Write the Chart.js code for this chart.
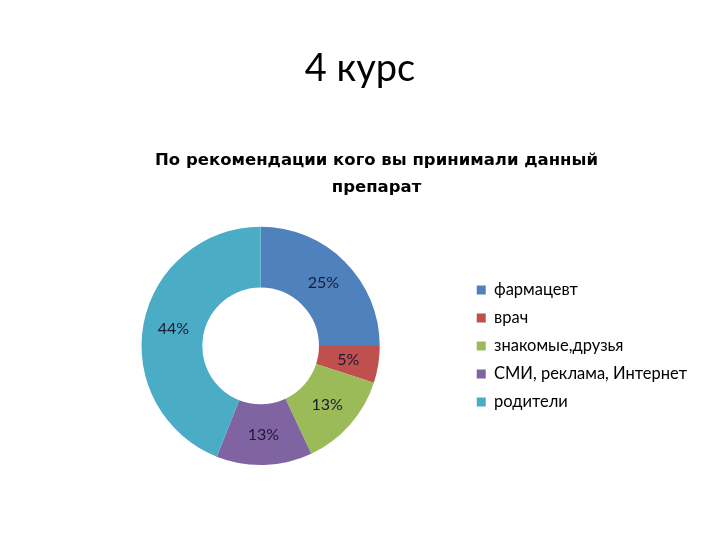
<!DOCTYPE html>
<html>
<head>
<meta charset="utf-8">
<script src="https://cdn.jsdelivr.net/npm/chart.js@4"></script>
<style>
  html, body { margin: 0; padding: 0; background: #fff; }
  #wrap { width: 720px; height: 540px; }
</style>
</head>
<body>
<div id="wrap"><canvas id="chart" width="720" height="540"></canvas></div>
<script>
// data
const heading = '4 курс';
const categories = ['фармацевт', 'врач', 'знакомые,друзья', 'СМИ, реклама, Интернет', 'родители'];
const shares = [25, 5, 13, 13, 44];
const sliceColors = ['#4F81BD', '#C0504D', '#9BBB59', '#8064A2', '#4BACC6'];

// slide heading sits over the page centre, not over the chart box
const slideHeading = {
    id: 'slideHeading',
    afterDraw(chart) {
        const ctx = chart.ctx;
        ctx.save();
        ctx.font = '38px Lato';
        ctx.fillStyle = '#000';
        ctx.textAlign = 'center';
        ctx.textBaseline = 'alphabetic';
        ctx.fillText(heading, chart.width / 2, 81);
        ctx.restore();
    }
};

// percent labels drawn in the middle of each ring slice
const sliceLabels = {
    id: 'sliceLabels',
    afterDatasetsDraw(chart) {
        const ctx = chart.ctx;
        const meta = chart.getDatasetMeta(0);
        ctx.save();
        ctx.font = '16px Lato';
        ctx.fillStyle = '#1a1a33';
        ctx.textAlign = 'center';
        ctx.textBaseline = 'middle';
        meta.data.forEach((arc, i) => {
            const pos = arc.tooltipPosition();
            ctx.fillText(shares[i] + '%', pos.x, pos.y);
        });
        ctx.restore();
    }
};

const ctx = document.getElementById('chart').getContext('2d');
new Chart(ctx, {
    type: 'doughnut',
    data: {
        labels: categories,
        datasets: [{
            data: shares,
            backgroundColor: sliceColors,
            borderWidth: 0
        }]
    },
    options: {
        responsive: false,
        animation: false,
        cutout: '49%',
        layout: { padding: { left: 56, right: 23, top: 148, bottom: 75 } },
        plugins: {
            title: { display: false },
            subtitle: {
                display: true,
                text: ['По рекомендации кого вы принимали данный', 'препарат'],
                color: '#000',
                font: { family: 'DejaVu Sans', size: 16.5, weight: 'bold', lineHeight: 1.6 },
                padding: { top: 0, bottom: 26 }
            },
            legend: {
                position: 'right',
                fullSize: false,
                labels: {
                    color: '#000',
                    font: { family: 'Lato', size: 16.5 },
                    boxWidth: 9,
                    boxHeight: 9,
                    padding: 11.5
                }
            },
            tooltip: { enabled: false }
        }
    },
    plugins: [sliceLabels, slideHeading]
});
</script>
</body>
</html>
